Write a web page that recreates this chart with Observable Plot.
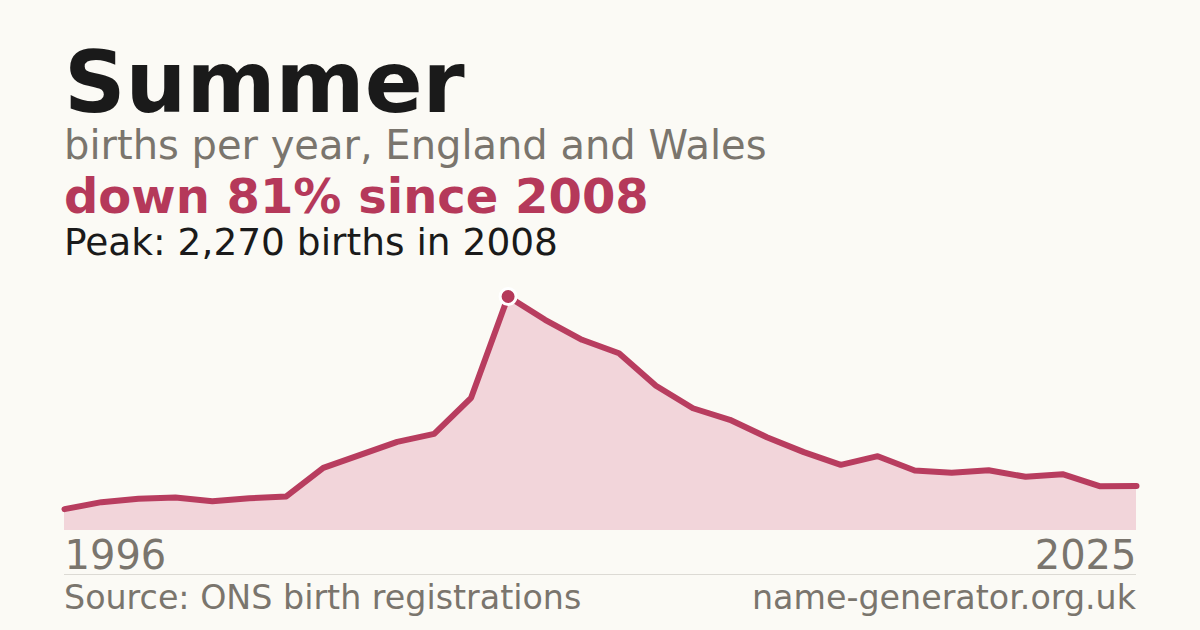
<!DOCTYPE html>
<html>
<head>
<meta charset="utf-8">
<script src="https://cdn.jsdelivr.net/npm/d3@7"></script>
<script src="https://cdn.jsdelivr.net/npm/@observablehq/plot@0.6"></script>
<style>
  html, body { margin: 0; padding: 0; background: #fbfaf5; }
  body { width: 1200px; height: 630px; position: relative; overflow: hidden; font-family: "DejaVu Sans", sans-serif; }
  .t { position: absolute; left: 64px; white-space: nowrap; }
  #title { top: 43.4px; font-size: 85.5px; line-height: 80px; font-weight: bold; color: #1a1a1a; }
  #sub { top: 125.2px; font-size: 40px; line-height: 40px; color: #7a756d; }
  #delta { top: 174.4px; font-size: 48px; line-height: 44px; font-weight: bold; color: #b5395a; }
  #peak { top: 223.5px; font-size: 37.5px; line-height: 36px; color: #1a1a1a; }
  #chart { position: absolute; left: 0; top: 280px; }
  #rule { position: absolute; left: 64px; width: 1072px; top: 574px; height: 1px; background: #dcdad4; }
  #src { top: 581px; font-size: 33.3px; line-height: 33px; color: #7a756d; }
  #site { position: absolute; right: 64px; top: 581px; font-size: 33.3px; line-height: 33px; color: #7a756d; white-space: nowrap; }
</style>
</head>
<body>
<div class="t" id="title">Summer</div>
<div class="t" id="sub">births per year, England and Wales</div>
<div class="t" id="delta">down 81% since 2008</div>
<div class="t" id="peak">Peak: 2,270 births in 2008</div>
<div id="chart"></div>
<div id="rule"></div>
<div class="t" id="src">Source: ONS birth registrations</div>
<div id="site">name-generator.org.uk</div>
<script>
const years = [1996,1997,1998,1999,2000,2001,2002,2003,2004,2005,2006,2007,2008,2009,2010,2011,2012,2013,2014,2015,2016,2017,2018,2019,2020,2021,2022,2023,2024,2025];
const births = [207,275,307,320,284,313,330,608,734,860,938,1287,2270,2044,1850,1720,1404,1186,1074,905,760,637,721,582,560,585,521,546,430,431];
const tickYears = [1996, 2025];
const peakYear = 2008;
const peakValue = 2270;

const data = years.map((y, i) => ({year: y, births: births[i]}));
const peak = [{year: peakYear, births: peakValue}];

const chart = Plot.plot({
  width: 1200,
  height: 300,
  marginLeft: 64,
  marginRight: 64,
  marginTop: 16,
  marginBottom: 50,
  style: {background: "transparent", fontFamily: "DejaVu Sans, sans-serif", overflow: "visible"},
  x: {domain: [years[0], years[years.length - 1]], axis: null},
  y: {domain: [0, peakValue], axis: null},
  marks: [
    Plot.areaY(data, {x: "year", y: "births", fill: "#f2d5da"}),
    Plot.lineY(data, {x: "year", y: "births", stroke: "#b83d5f", strokeWidth: 6, strokeLinejoin: "round"}),
    Plot.dot(peak, {x: "year", y: "births", r: 8, fill: "#b5395a", stroke: "#ffffff", strokeWidth: 3}),
    Plot.text([tickYears[0]], {x: d => d, y: 0, dy: 26, text: d => String(d), textAnchor: "start", fontSize: 40, fill: "#7a756d"}),
    Plot.text([tickYears[1]], {x: d => d, y: 0, dy: 26, text: d => String(d), textAnchor: "end", fontSize: 40, fill: "#7a756d"})
  ]
});
document.getElementById("chart").appendChild(chart);
</script>
</body>
</html>
